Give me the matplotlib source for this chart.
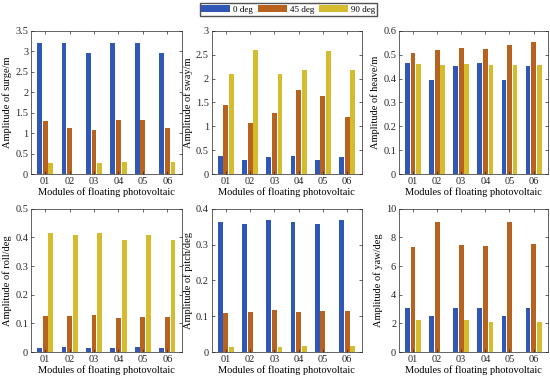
import numpy as np
import matplotlib.pyplot as plt
from matplotlib.patches import Patch

plt.rcParams['font.family'] = ['Liberation Serif', 'DejaVu Serif']
plt.rcParams['font.size'] = 7.5

modules = ['01', '02', '03', '04', '05', '06']
angles = ['0 deg', '45 deg', '90 deg']

# amplitudes for 0 / 45 / 90 deg
surge = [[3.2, 3.2, 2.95, 3.2, 3.2, 2.95],
         [1.3, 1.12, 1.08, 1.33, 1.33, 1.12],
         [0.28, 0.0, 0.28, 0.3, 0.0, 0.3]]
sway = [[0.38, 0.30, 0.36, 0.38, 0.30, 0.36],
        [1.44, 1.06, 1.29, 1.76, 1.63, 1.20],
        [2.09, 2.59, 2.09, 2.17, 2.57, 2.17]]
heave = [[0.465, 0.395, 0.452, 0.465, 0.395, 0.452],
         [0.507, 0.520, 0.527, 0.525, 0.542, 0.555],
         [0.463, 0.455, 0.463, 0.457, 0.455, 0.457]]
roll = [[0.015, 0.017, 0.015, 0.015, 0.017, 0.015],
        [0.127, 0.127, 0.129, 0.118, 0.123, 0.121],
        [0.414, 0.408, 0.414, 0.392, 0.410, 0.392]]
pitch = [[0.362, 0.358, 0.369, 0.362, 0.358, 0.369],
         [0.108, 0.113, 0.116, 0.113, 0.115, 0.115],
         [0.013, 0.0, 0.013, 0.016, 0.0, 0.016]]
yaw = [[3.10, 2.50, 3.05, 3.10, 2.50, 3.05],
       [7.30, 9.05, 7.50, 7.40, 9.05, 7.55],
       [2.25, 0.0, 2.25, 2.12, 0.0, 2.12]]

panels = [
    (surge, 'Amplitude of surge/m', 3.5, 0.5),
    (sway, 'Amplitude of sway/m', 3.0, 0.5),
    (heave, 'Amplitude of heave/m', 0.6, 0.1),
    (roll, 'Amplitude of roll/deg', 0.5, 0.1),
    (pitch, 'Amplitude of pitch/deg', 0.4, 0.1),
    (yaw, 'Amplitude of yaw/deg', 10, 2),
]

colors = ['#2F57B6', '#B8621F', '#D4BC2E']

fig = plt.figure(figsize=(5.5, 3.81), dpi=100)
lefts = [0.0564, 0.385, 0.7255]
widths = [0.2745, 0.2727, 0.271]
bottoms = [0.543, 0.0761]
height = 0.376

x = np.arange(1, len(modules) + 1)
offsets = [-0.23, 0.0, 0.23]

for i, (data, ylab, ymax, step) in enumerate(panels):
    r, c = divmod(i, 3)
    ax = fig.add_axes([lefts[c], bottoms[r], widths[c], height])
    for k in range(3):
        ax.bar(x + offsets[k], data[k], width=0.2, color=colors[k])
    ax.set_xlim(0.42, 6.6)
    ax.set_ylim(0, ymax)
    ticks = np.arange(0, ymax + step / 2, step)
    ax.set_yticks(ticks)
    ax.set_yticklabels(['%g' % round(t, 2) for t in ticks])
    ax.set_xticks(x)
    ax.set_xticklabels(modules)
    ax.tick_params(direction='in', top=True, right=True, length=2.5,
                   width=0.5, pad=2, colors='#262626', labelcolor='#262626')
    for s in ax.spines.values():
        s.set_linewidth(0.5)
        s.set_color('#262626')
    ax.set_ylabel(ylab, labelpad=2)
    ax.set_xlabel('Modules of floating photovoltaic', labelpad=1)

handles = [Patch(facecolor=colors[k], edgecolor='none') for k in range(3)]
fig.legend(handles, angles, loc='center', bbox_to_anchor=(0.524, 0.975),
           ncol=3, frameon=True, fancybox=False, edgecolor='#262626',
           handlelength=3.2, handleheight=0.8, handletextpad=0.3,
           columnspacing=0.6, borderpad=0.2, borderaxespad=0, fontsize=6.5)

fig.savefig('out.png', dpi=100)
